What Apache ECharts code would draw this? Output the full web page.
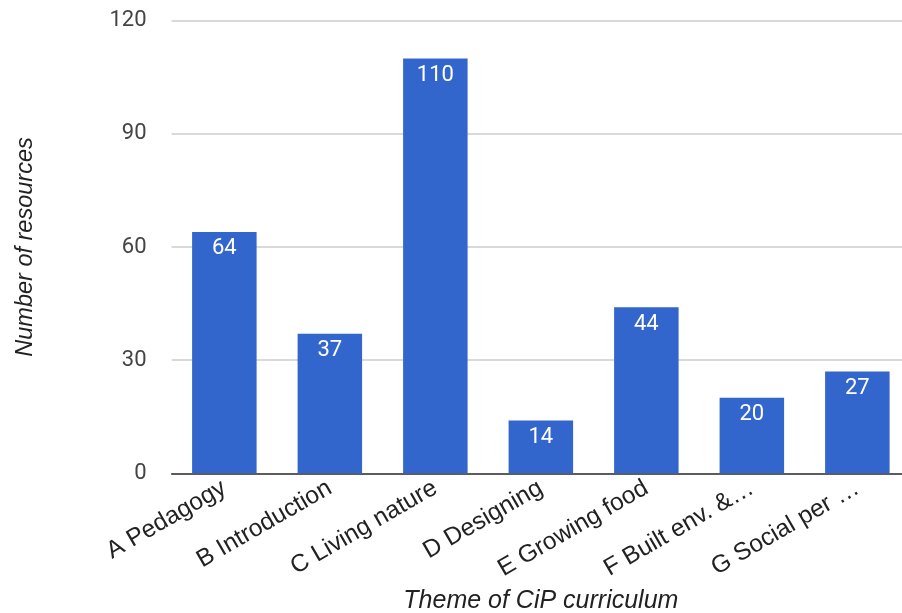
<!DOCTYPE html>
<html>
<head>
<meta charset="utf-8">
<script src="https://cdn.jsdelivr.net/npm/echarts@6/dist/echarts.min.js"></script>
<style>
  html, body { margin: 0; padding: 0; background: #fff; }
  #chart { width: 902px; height: 613px; }
</style>
</head>
<body>
<div id="chart"></div>
<script>
// Resources per curriculum theme
const themes = [
  'A Pedagogy',
  'B Introduction',
  'C Living nature',
  'D Designing',
  'E Growing food',
  'F Built env. &\u2026',
  'G Social per \u2026'
];
const resourceCounts = [64, 37, 110, 14, 44, 20, 27];
const yTicks = { min: 0, max: 120, step: 30 };

const chart = echarts.init(document.getElementById('chart'), null, { renderer: 'canvas' });

chart.setOption({
  backgroundColor: '#ffffff',
  animation: false,
  grid: {
    left: 171.6,
    top: 20.7,
    width: 738.5,
    bottom: 139.7,
    containLabel: false,
    outerBoundsMode: 'none'
  },
  xAxis: {
    type: 'category',
    data: themes,
    name: 'Theme of CiP curriculum',
    nameLocation: 'middle',
    nameGap: 115,
    nameTextStyle: {
      fontFamily: 'Liberation Sans',
      fontStyle: 'italic',
      fontSize: 25,
      color: '#222'
    },
    axisLine: { show: true, lineStyle: { color: '#333', width: 1.5 } },
    axisTick: { show: false },
    axisLabel: {
      interval: 0,
      rotate: 30,
      margin: 13,
      fontFamily: 'Liberation Sans',
      fontSize: 24.5,
      color: '#222'
    }
  },
  yAxis: {
    type: 'value',
    min: yTicks.min,
    max: yTicks.max,
    interval: yTicks.step,
    name: 'Number of resources',
    nameLocation: 'middle',
    nameGap: 135,
    nameTextStyle: {
      fontFamily: 'Liberation Sans',
      fontStyle: 'italic',
      fontSize: 23.5,
      color: '#222'
    },
    axisLine: { show: false },
    axisTick: { show: false },
    axisLabel: {
      margin: 25,
      fontFamily: 'Roboto',
      fontSize: 22,
      color: '#444'
    },
    splitLine: { lineStyle: { color: '#cccccc', width: 1.5 } }
  },
  series: [{
    type: 'bar',
    data: resourceCounts,
    barWidth: 64.5,
    itemStyle: { color: '#3366cc' },
    label: {
      show: true,
      position: 'insideTop',
      distance: 6,
      fontFamily: 'Roboto',
      fontSize: 22,
      color: '#ffffff'
    }
  }]
});
</script>
</body>
</html>
